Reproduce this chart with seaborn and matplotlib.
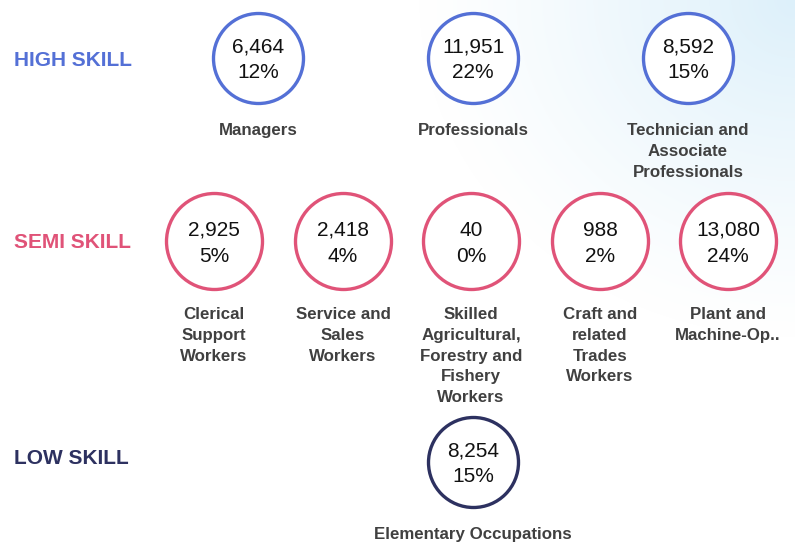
import numpy as np
import pandas as pd
import matplotlib.pyplot as plt
from matplotlib.colors import LinearSegmentedColormap
import seaborn as sns

groups = ["HIGH SKILL", "SEMI SKILL", "LOW SKILL"]
group_colors = ["#5470D6", "#E05378", "#2D3160"]

occupations = ["Managers", "Professionals", "Technician and\nAssociate\nProfessionals",
               "Clerical\nSupport\nWorkers", "Service and\nSales\nWorkers",
               "Skilled\nAgricultural,\nForestry and\nFishery\nWorkers",
               "Craft and\nrelated\nTrades\nWorkers", "Plant and\nMachine-Op..",
               "Elementary Occupations"]
occ_group = ["HIGH SKILL"] * 3 + ["SEMI SKILL"] * 5 + ["LOW SKILL"]
counts = [6464, 11951, 8592, 2925, 2418, 40, 988, 13080, 8254]
shares = [12, 22, 15, 5, 4, 0, 2, 24, 15]

# layout in pixel space
col_x = [258, 473, 688, 214, 343, 471, 600, 728, 473]
row_y = {"HIGH SKILL": 58, "SEMI SKILL": 241, "LOW SKILL": 462}

df = pd.DataFrame({"occ": occupations, "group": occ_group, "count": counts,
                   "share": shares, "x": col_x})
df["y"] = df["group"].map(row_y)

sns.set_theme(style="white")
plt.rcParams['font.family'] = ['Liberation Sans', 'DejaVu Sans']

fig = plt.figure(figsize=(7.95, 5.49), dpi=100)
ax = fig.add_axes([0, 0, 1, 1])
ax.set_xlim(0, 795)
ax.set_ylim(549, 0)
ax.axis("off")

# soft blue glow in the top right corner
xx, yy = np.meshgrid(np.arange(795), np.arange(549))
d = np.sqrt(((795 - xx) / 380.0) ** 2 + (yy / 340.0) ** 2)
glow = np.clip(1 - d, 0, 1) ** 1.2
cmap = LinearSegmentedColormap.from_list("bg", ["#FFFFFF", "#DDF0FA"])
ax.imshow(glow, cmap=cmap, extent=(0, 795, 549, 0), vmin=0, vmax=1,
          zorder=0, aspect="auto")

radius_px = {"HIGH SKILL": 45, "SEMI SKILL": 48, "LOW SKILL": 45}
label_y = {"HIGH SKILL": 61, "SEMI SKILL": 243, "LOW SKILL": 459}
for g, c in zip(groups, group_colors):
    sub = df[df["group"] == g]
    diam_pt = 2 * radius_px[g] * 0.72
    sns.scatterplot(data=sub, x="x", y="y", s=diam_pt ** 2, marker="o",
                    facecolor="white", edgecolor=c, linewidth=2.4, ax=ax,
                    legend=False, zorder=3)
    ax.text(14, label_y[g], g, color=c, fontsize=15, fontweight="bold",
            ha="left", va="center")

for _, r in df.iterrows():
    ax.text(r["x"], r["y"] - 11, f"{r['count']:,}", ha="center", va="center",
            fontsize=15, color="#111111", zorder=4)
    ax.text(r["x"], r["y"] + 15, f"{r['share']}%", ha="center", va="center",
            fontsize=15, color="#111111", zorder=4)
    label_top = r["y"] + radius_px[r["group"]] + 18
    if r["group"] == "LOW SKILL":
        label_top = r["y"] + 65
    if r["group"] == "HIGH SKILL":
        label_top += 2
    ax.text(r["x"], label_top, r["occ"], ha="center", va="top",
            fontsize=12.2, fontweight="bold", color="#404040",
            linespacing=1.48, zorder=4)

fig.savefig("out.png", dpi=100)
